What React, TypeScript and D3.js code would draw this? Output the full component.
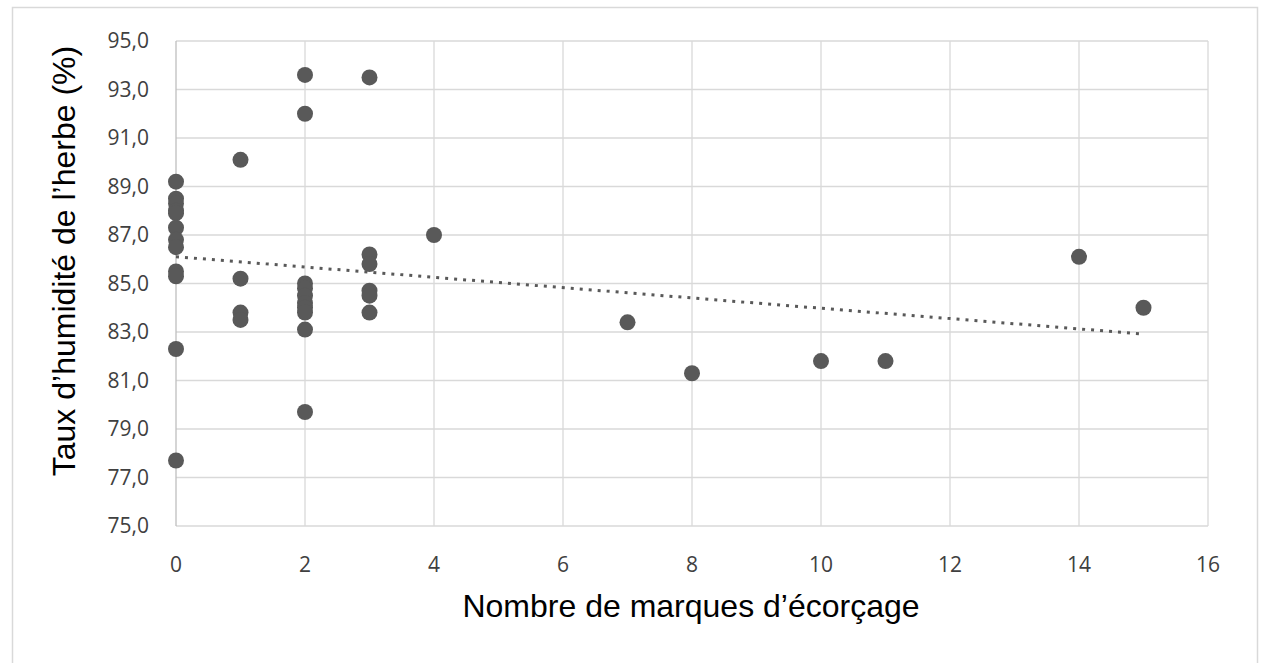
import React, { useEffect, useRef } from "react";
import * as d3 from "d3";

const marques: number[] = [
  0, 0, 0, 0, 0, 0, 0, 0, 0, 0, 0, 0,
  1, 1, 1, 1,
  2, 2, 2, 2, 2, 2, 2, 2, 2, 2,
  3, 3, 3, 3, 3, 3,
  4, 7, 8, 10, 11, 14, 15,
];
const humidite: number[] = [
  89.2, 88.5, 88.3, 88.0, 87.9, 87.3, 86.8, 86.5, 85.5, 85.3, 82.3, 77.7,
  90.1, 85.2, 83.8, 83.5,
  93.6, 92.0, 85.0, 84.8, 84.5, 84.2, 84.0, 83.8, 83.1, 79.7,
  93.5, 86.2, 85.8, 84.7, 84.5, 83.8,
  87.0, 83.4, 81.3, 81.8, 81.8, 86.1, 84.0,
];
const xTicks: number[] = [0, 2, 4, 6, 8, 10, 12, 14, 16];
const yTicks: number[] = [75, 77, 79, 81, 83, 85, 87, 89, 91, 93, 95];
const xTitle = "Nombre de marques d\u2019écorçage";
const yTitle = "Taux d\u2019humidité de l\u2019herbe (%)";

export default function App() {
  const ref = useRef<SVGSVGElement>(null);
  useEffect(() => {
    const svg = d3.select(ref.current);
    svg.selectAll("*").remove();
    const L = 176, R = 1208, T = 41, B = 526;
    const x = d3.scaleLinear().domain([0, 16]).range([L, R]);
    const y = d3.scaleLinear().domain([75, 95]).range([B, T]);

    svg.append("rect").attr("x", 12.5).attr("y", 7.5).attr("width", 1245).attr("height", 670)
      .attr("fill", "#fff").attr("stroke", "#d9d9d9").attr("stroke-width", 1.5);

    const g = svg.append("g");
    g.selectAll("line.h").data(yTicks).enter().append("line")
      .attr("x1", L).attr("x2", R).attr("y1", (d) => y(d)).attr("y2", (d) => y(d))
      .attr("stroke", "#d9d9d9").attr("stroke-width", 1.3);
    g.selectAll("line.v").data(xTicks).enter().append("line")
      .attr("y1", T).attr("y2", B).attr("x1", (d) => x(d)).attr("x2", (d) => x(d))
      .attr("stroke", (d) => (d === 0 ? "#bfbfbf" : "#d9d9d9")).attr("stroke-width", 1.3);

    const tickFont = "'Open Sans', 'Noto Sans', sans-serif";
    g.selectAll("text.yt").data(yTicks).enter().append("text")
      .attr("x", 149).attr("y", (d) => y(d)).attr("dy", "0.35em")
      .attr("text-anchor", "end").attr("font-family", tickFont).attr("font-size", 21)
      .attr("fill", "#404040").text((d) => d.toFixed(1).replace(".", ","));
    g.selectAll("text.xt").data(xTicks).enter().append("text")
      .attr("x", (d) => x(d)).attr("y", 565).attr("dy", "0.35em")
      .attr("text-anchor", "middle").attr("font-family", tickFont).attr("font-size", 21)
      .attr("fill", "#404040").text((d) => String(d));

    // trend line (least squares)
    const n = marques.length;
    const mx = d3.mean(marques)!;
    const my = d3.mean(humidite)!;
    let sxy = 0, sxx = 0;
    for (let i = 0; i < n; i++) {
      sxy += (marques[i] - mx) * (humidite[i] - my);
      sxx += (marques[i] - mx) * (marques[i] - mx);
    }
    const slope = sxy / sxx;
    const icpt = my - slope * mx;
    const x0 = d3.min(marques)!, x1 = d3.max(marques)!;
    g.append("line")
      .attr("x1", x(x0)).attr("y1", y(icpt + slope * x0))
      .attr("x2", x(x1)).attr("y2", y(icpt + slope * x1))
      .attr("stroke", "#595959").attr("stroke-width", 3).attr("stroke-dasharray", "3 6").attr("stroke-linecap", "butt");

    g.selectAll("circle").data(marques.map((m, i) => [m, humidite[i]])).enter().append("circle")
      .attr("cx", (d) => x(d[0])).attr("cy", (d) => y(d[1])).attr("r", 8)
      .attr("fill", "#595959");

    g.append("text").attr("x", 691).attr("y", 606).attr("dy", "0.35em")
      .attr("text-anchor", "middle").attr("font-family", "'Liberation Sans', Arial, sans-serif")
      .attr("font-size", 32).attr("fill", "#000").text(xTitle);
    g.append("text").attr("transform", "translate(64,261) rotate(-90)").attr("dy", "0.35em")
      .attr("text-anchor", "middle").attr("font-family", "'Liberation Sans', Arial, sans-serif")
      .attr("font-size", 32).attr("fill", "#000").text(yTitle);
  }, []);
  return (
    <svg ref={ref} width={1264} height={663}
      style={{ position: "absolute", left: 0, top: 0, display: "block" }} />
  );
}
